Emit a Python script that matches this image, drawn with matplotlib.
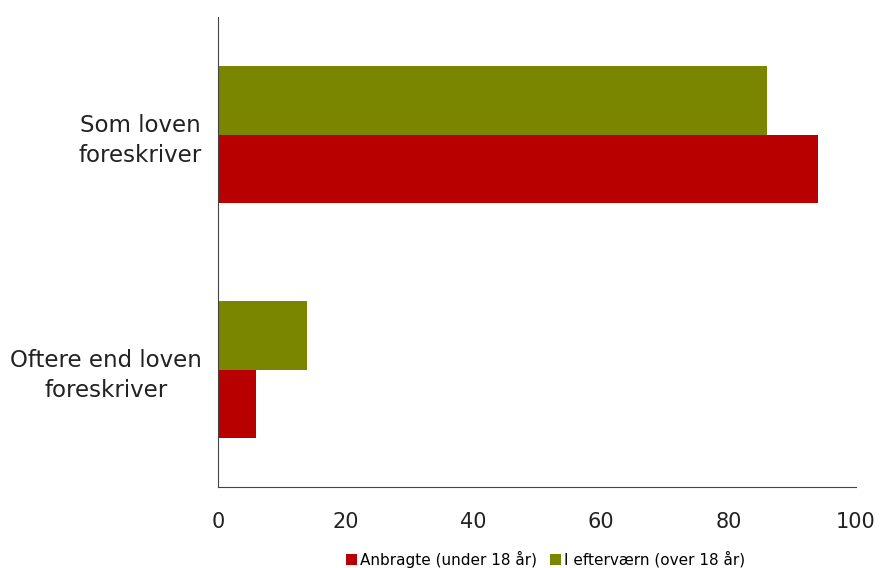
import matplotlib
matplotlib.use("Agg")
import matplotlib.pyplot as plt
import numpy as np

categories = ["Oftere end loven\nforeskriver", "Som loven\nforeskriver"]
anbragte = [6, 94]
efterværn = [14, 86]
series_names = ["Anbragte (under 18 år)", "I efterværn (over 18 år)"]
xticks = [0, 20, 40, 60, 80, 100]

red = "#B80000"
green = "#7A8500"

fig = plt.figure(figsize=(8.8, 5.68), dpi=100)
ax = fig.add_axes([0.2477, 0.1426, 0.725, 0.8274])

y = np.arange(len(categories))
h = 0.29
ax.barh(y - h / 2, anbragte, height=h, color=red, label=series_names[0])
ax.barh(y + h / 2, efterværn, height=h, color=green, label=series_names[1])

ax.set_xlim(0, 100)
ax.set_ylim(-0.5, 1.5)
ax.set_xticks(xticks)
ax.set_xticklabels([str(t) for t in xticks], fontsize=15, color="#222222")
ax.set_yticks(y)
ax.set_yticklabels(categories, fontsize=16.5, color="#222222", linespacing=1.4)
for lbl in ax.get_yticklabels():
    lbl.set_horizontalalignment("right")
    lbl.set_multialignment("center")
ax.tick_params(axis="y", length=0, pad=11.5)
ax.tick_params(axis="x", length=0, pad=18)
for s in ["top", "right"]:
    ax.spines[s].set_visible(False)
ax.spines["left"].set_color("#444444")
ax.spines["bottom"].set_color("#444444")

fig.legend(loc="lower center", bbox_to_anchor=(0.62, -0.024), ncol=2, frameon=False,
           fontsize=11, handlelength=0.75, handleheight=0.75, handletextpad=0.2,
           columnspacing=0.8)

fig.savefig("out.png", dpi=100)
